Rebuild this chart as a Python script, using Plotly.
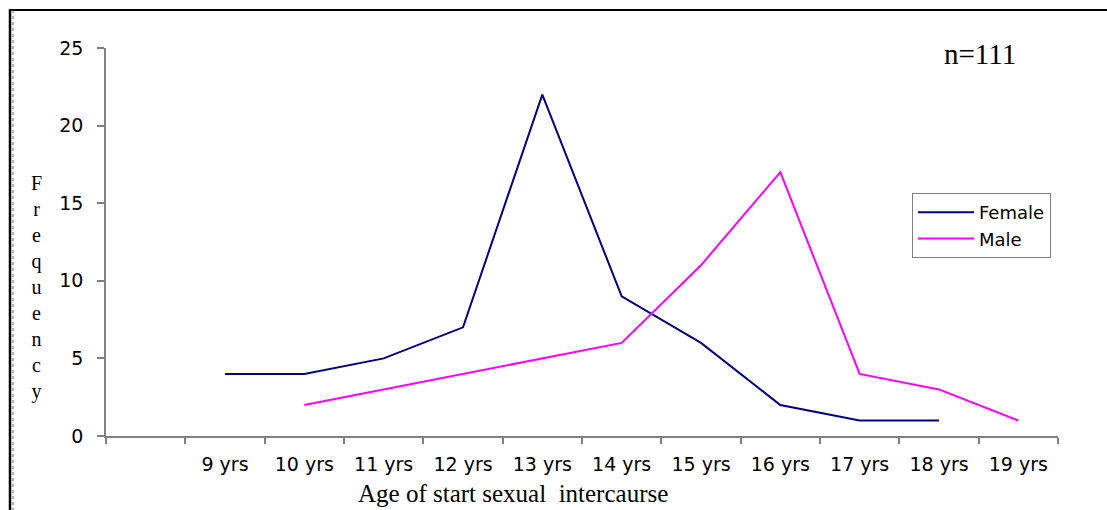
import plotly.graph_objects as go

# Age categories (leading blank slot keeps the first interval empty)
ages = [" ", "9 yrs", "10 yrs", "11 yrs", "12 yrs", "13 yrs", "14 yrs",
        "15 yrs", "16 yrs", "17 yrs", "18 yrs", "19 yrs"]
female = [None, 4, 4, 5, 7, 22, 9, 6, 2, 1, 1, None]
male = [None, None, 2, 3, 4, 5, 6, 11, 17, 4, 3, 1]
y_ticks = [0, 5, 10, 15, 20, 25]

W, H = 1107, 510
L, R, T, B = 106, 49, 48, 74
pw, ph = W - L - R, H - T - B


def px(x):
    return (x - L) / pw


def py(y):
    return (H - B - y) / ph


fig = go.Figure()
fig.add_trace(go.Scatter(x=ages, y=female, name="Female", mode="lines",
                         line=dict(color="#000080", width=2)))
fig.add_trace(go.Scatter(x=ages, y=male, name="Male", mode="lines",
                         line=dict(color="#FF00FF", width=2)))

sans = "DejaVu Sans, Arial, sans-serif"
serif = "Liberation Serif, Times New Roman, serif"

fig.update_layout(
    width=W, height=H,
    margin=dict(l=L, r=R, t=T, b=B),
    paper_bgcolor="white", plot_bgcolor="white",
    showlegend=True,
    legend=dict(x=px(912), y=py(193), xanchor="left", yanchor="top",
                bgcolor="white", bordercolor="#808080", borderwidth=1,
                font=dict(family=sans, size=18, color="black"),
                tracegroupgap=2, itemwidth=56),
    xaxis=dict(type="category", categoryorder="array", categoryarray=ages,
               range=[-0.5, len(ages) - 0.5], tickson="boundaries",
               ticks="outside", ticklen=6, tickcolor="#808080", tickwidth=1.5,
               showline=True, linecolor="#808080", linewidth=1.5,
               showgrid=False, zeroline=False,
               tickfont=dict(family=sans, size=19, color="black"),
               ticklabelstandoff=10, fixedrange=True),
    yaxis=dict(range=[0, 25], tickvals=y_ticks,
               ticks="outside", ticklen=7, tickcolor="#808080", tickwidth=1.5,
               showline=True, linecolor="#808080", linewidth=1.5,
               showgrid=False, zeroline=False,
               tickfont=dict(family=sans, size=19, color="black"),
               ticklabelstandoff=10, fixedrange=True),
    annotations=[
        dict(text="n=111", x=px(980), y=py(54), xref="paper", yref="paper",
             xanchor="center", yanchor="middle", showarrow=False,
             font=dict(family=serif, size=29, color="black")),
        dict(text="Age of start sexual  intercaurse", x=px(513), y=py(494),
             xref="paper", yref="paper", xanchor="center", yanchor="middle",
             showarrow=False, font=dict(family=serif, size=25, color="black")),
        dict(text="<br>".join("Frequency"), x=px(36), y=py(287),
             xref="paper", yref="paper", xanchor="center", yanchor="middle",
             showarrow=False, align="center",
             font=dict(family=serif, size=20, color="black")),
    ],
    shapes=[
        # outer frame: top edge and double left edge
        dict(type="line", xref="paper", yref="paper", x0=px(9), x1=px(1107),
             y0=py(10), y1=py(10), line=dict(color="black", width=2)),
        dict(type="line", xref="paper", yref="paper", x0=px(10), x1=px(10),
             y0=py(10), y1=py(510), line=dict(color="black", width=2.5)),
        dict(type="line", xref="paper", yref="paper", x0=px(13), x1=px(13),
             y0=py(10), y1=py(510), line=dict(color="#666666", width=1, dash="dot")),
    ],
)

fig.write_html("out.html")
